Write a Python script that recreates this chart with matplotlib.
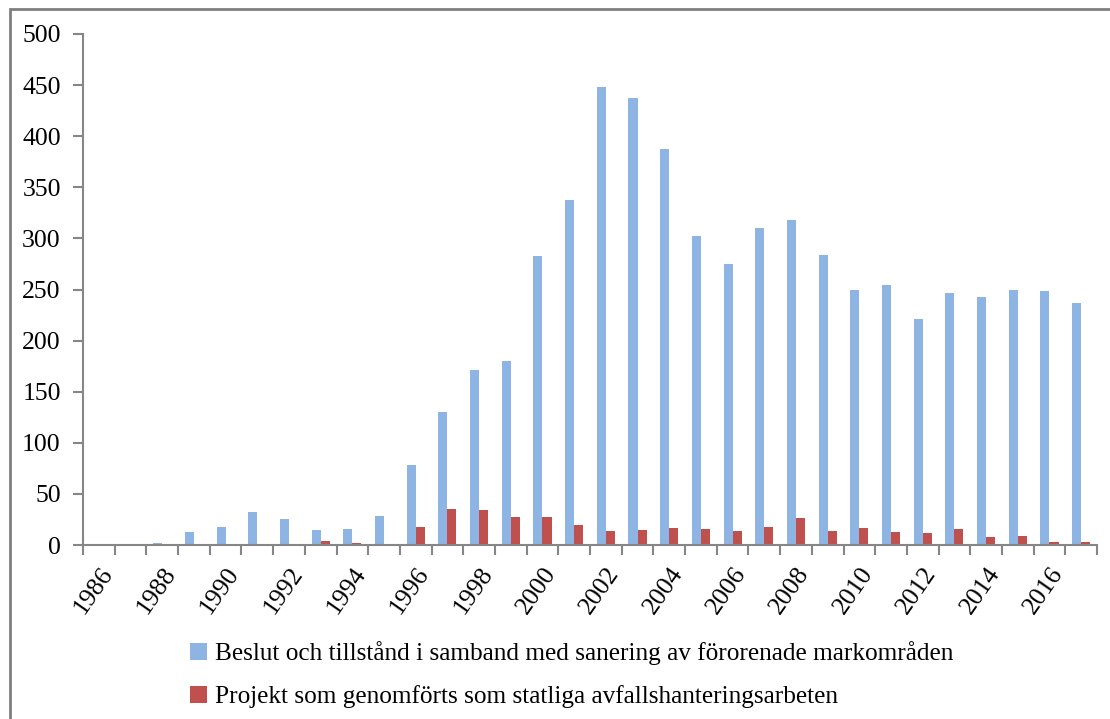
import numpy as np
import matplotlib
matplotlib.use('Agg')
import matplotlib.pyplot as plt
from matplotlib.patches import Rectangle

plt.rcParams['font.family'] = ['Liberation Serif', 'DejaVu Serif']

years = list(range(1986, 2018))
beslut = [1, 0, 2, 13, 18, 32, 25, 15, 16, 28, 78, 130, 171, 180, 283, 338,
          448, 437, 387, 302, 275, 310, 318, 284, 250, 254, 221, 247, 243, 250, 249, 237]
projekt = [0, 0, 0, 0, 0, 0, 0, 4, 2, 1, 18, 35, 34, 27, 27, 20,
           14, 15, 17, 16, 14, 18, 26, 14, 17, 13, 12, 16, 8, 9, 3, 3]
labels = ['Beslut och tillstånd i samband med sanering av förorenade markområden',
          'Projekt som genomförts som statliga avfallshanteringsarbeten']

fig = plt.figure(figsize=(11.1, 7.19), dpi=100)
ax = fig.add_axes([83 / 1110, 1 - 545 / 719, 1014 / 1110, 511 / 719])

x = np.arange(len(years))
w = 1 / 3.5
ax.bar(x - w / 2, beslut, w, color='#8DB4E2', label=labels[0])
ax.bar(x + w / 2, projekt, w, color='#C0504D', label=labels[1])

ax.set_xlim(-0.5, len(years) - 0.5)
ax.set_ylim(0, 500)
ax.set_yticks(range(0, 501, 50))
for s in ['top', 'right']:
    ax.spines[s].set_visible(False)
for s in ['left', 'bottom']:
    ax.spines[s].set_color('#868686')
    ax.spines[s].set_linewidth(1.5)

# ticks on category boundaries, labels every other year
ax.set_xticks(np.arange(-0.5, len(years), 1))
ax.set_xticklabels([])
ax.set_xticks(x[::2], [str(y) for y in years[::2]], minor=True)
ax.tick_params(axis='x', which='major', length=7, width=1.5, color='#868686')
ax.tick_params(axis='x', which='minor', length=0, labelsize=18.5, pad=13)
ax.tick_params(axis='y', length=7, width=1.5, color='#868686', labelsize=18.5, pad=9)
for t in ax.get_xticklabels(minor=True):
    t.set_rotation(55)
    t.set_ha('right')
    t.set_rotation_mode('anchor')

fig.legend(loc='upper left', bbox_to_anchor=(180 / 1110, 1 - 631 / 719), ncol=1,
           frameon=False, fontsize=18.2, handlelength=0.65, handleheight=0.65,
           handletextpad=0.35, labelspacing=0.8, borderaxespad=0)

fig.patches.append(Rectangle((10 / 1110, -0.1), 1.2, 1 - 9 / 719 + 0.1,
                             transform=fig.transFigure, fill=False,
                             edgecolor='#7F7F7F', linewidth=2))

fig.savefig('out.png', dpi=100)
